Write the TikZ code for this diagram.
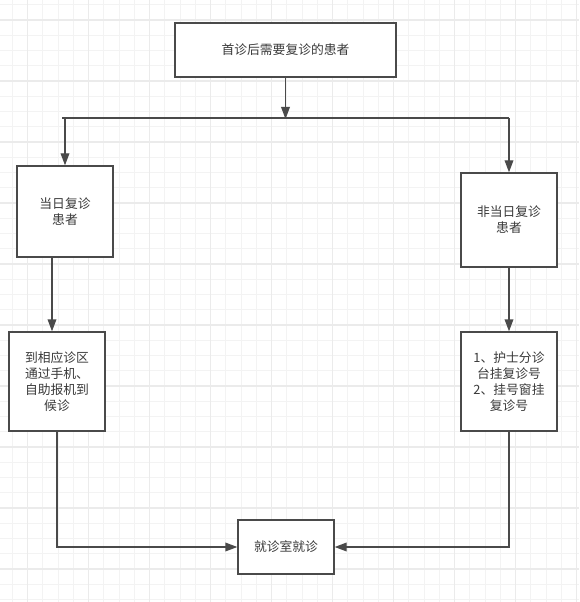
\documentclass[tikz,border=0pt]{standalone}
\usepackage{fontspec}
\setmainfont{Noto Sans CJK SC}
\usetikzlibrary{arrows.meta}
\definecolor{gridminor}{HTML}{F3F3F3}
\definecolor{gridmajor}{HTML}{EBEBEB}
\definecolor{edge}{HTML}{4A4A4A}
\definecolor{txt}{HTML}{3A3A3A}
\tikzset{
  box/.style={draw=edge, line width=1pt, fill=white, inner sep=0pt, align=center,
    text=txt, font=\fontsize{9.6pt}{12pt}\selectfont},
  arr/.style={draw=edge, line width=1pt, -{Triangle[length=9pt,width=6.5pt]}},
  plain/.style={draw=edge, line width=1pt},
  gminor/.style={draw=gridminor, line width=0.8pt},
  gmajor/.style={draw=gridmajor, line width=0.8pt},
}
\begin{document}
\begin{tikzpicture}[x=0.75pt,y=-0.75pt]
\useasboundingbox (0,0) rectangle (579,602);
\fill[white] (0,0) rectangle (579,602);
% grid
\foreach \k in {0,...,37} \draw[gminor] ({12.45+\k*15.25},0) -- ({12.45+\k*15.25},602);
\foreach \k in {0,...,39} \draw[gminor] (0,{4.75+\k*15.25}) -- (579,{4.75+\k*15.25});
\foreach \k in {1,5,...,37} \draw[gmajor] ({12.45+\k*15.25},0) -- ({12.45+\k*15.25},602);
\foreach \k in {1,5,...,37} \draw[gmajor] (0,{4.75+\k*15.25}) -- (579,{4.75+\k*15.25});
% nodes
\node[box, minimum width=221*0.75pt, minimum height=54*0.75pt] (top) at (285.5,50) {首诊后需要复诊的患者};
\node[box, minimum width=96*0.75pt, minimum height=91*0.75pt] (L1) at (65,211.5) {当日复诊\\患者};
\node[box, minimum width=96*0.75pt, minimum height=94*0.75pt] (R1) at (509,220) {非当日复诊\\患者};
\node[box, minimum width=96*0.75pt, minimum height=99*0.75pt] (L2) at (57,381.5) {到相应诊区\\通过手机、\\自助报机到\\候诊};
\node[box, minimum width=96*0.75pt, minimum height=99*0.75pt] (R2) at (509,381.5) {1、护士分诊\\台挂复诊号\\2、挂号窗挂\\复诊号};
\node[box, minimum width=96*0.75pt, minimum height=54*0.75pt] (bot) at (286,547) {就诊室就诊};
% connectors
\coordinate (j) at (top.south |- 0,119);
\coordinate (hl) at (62,118);
\coordinate (hr) at (509,118);
\coordinate (hL) at (65,118);
\draw[arr] (top.south) -- (j);
\draw[plain] (hl) -- (hr);
\draw[arr] (hL) -- (L1.north);
\draw[arr] (hr) -- (R1.north);
\draw[arr] ([xshift=-9.75pt]L1.south) -- ([xshift=-9.75pt]L1.south |- L2.north);
\draw[arr] (R1.south) -- (R2.north);
\draw[arr] (L2.south) |- (bot.west);
\draw[arr] (R2.south) |- (bot.east);
\end{tikzpicture}
\end{document}
